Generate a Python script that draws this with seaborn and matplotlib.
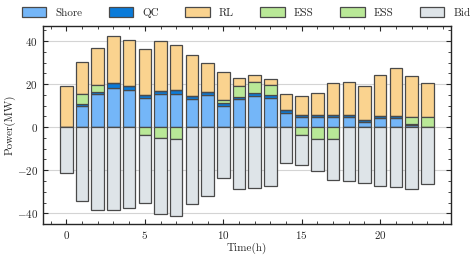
import numpy as np
import pandas as pd
import matplotlib
matplotlib.use("Agg")
import matplotlib.pyplot as plt
from matplotlib.ticker import MultipleLocator
import seaborn as sns

hours = np.arange(24)
shore = [0, 10.0, 15.3, 18.3, 17.1, 13.7, 15.4, 15.4, 13.1, 15.1, 10.0, 12.9,
         14.5, 13.7, 6.8, 4.8, 4.8, 4.8, 4.8, 2.6, 4.2, 4.2, 1.1, 0]
qc = [0, 0.9, 1.0, 2.2, 1.9, 1.3, 1.6, 1.9, 1.4, 1.4, 1.1, 1.3,
      1.2, 1.1, 1.1, 0.9, 0.9, 0.9, 0.9, 0.8, 0.9, 0.9, 0.4, 0]
rl = [19.2, 14.7, 17.1, 22.0, 21.7, 21.5, 22.9, 20.7, 18.8, 13.5, 12.8, 3.7,
      3.2, 3.0, 7.5, 8.6, 10.0, 14.8, 15.2, 15.9, 18.9, 22.3, 19.0, 15.6]
ess_ch = [0, 4.7, 3.3, 0, 0, 0, 0, 0, 0, 0, 1.5, 4.9,
          5.1, 4.8, 0, 0, 0, 0, 0, 0, 0, 0, 3.1, 4.9]
ess_dis = [0, 0, 0, 0, 0, -3.5, -5.1, -5.4, 0, 0, 0, 0,
           0, 0, 0, -3.5, -5.4, -5.4, 0, 0, 0, 0, 0, 0]
bid = [-21.1, -34.5, -38.6, -38.6, -37.7, -31.9, -35.1, -35.7, -35.7, -32.0, -23.8, -28.5,
       -28.3, -27.1, -16.6, -14.2, -15.1, -18.9, -25.2, -25.7, -27.4, -28.0, -28.5, -26.6]

df = pd.DataFrame({"hour": hours, "Shore": shore, "QC": qc, "RL": rl,
                   "ESS_ch": ess_ch, "ESS_dis": ess_dis, "Bid": bid})

sns.set_style("ticks")
plt.rcParams["font.family"] = "serif"
plt.rcParams["font.serif"] = ["cmr10", "DejaVu Serif"]
plt.rcParams["mathtext.fontset"] = "cm"
plt.rcParams["axes.formatter.use_mathtext"] = True
plt.rcParams["axes.unicode_minus"] = True

fig = plt.figure(figsize=(4.76, 2.57), dpi=100)
ax = fig.add_axes([0.090, 0.128, 0.857, 0.771])

edge = "#4a4a4a"
kw = dict(width=0.8, edgecolor=edge, linewidth=0.9, errorbar=None, saturation=1,
          native_scale=True, ax=ax, zorder=3)

# positive side: Shore, QC, ESS charge, RL stacked in that order
b_qc = df["Shore"]
b_ess = b_qc + df["QC"]
b_rl = b_ess + df["ESS_ch"]

sns.barplot(data=df, x="hour", y="Shore", color="#74b6f8", label="Shore", **kw)
sns.barplot(data=df, x="hour", y="QC", bottom=b_qc.values, color="#0a7bd9", label="QC", **kw)
sns.barplot(data=df, x="hour", y="RL", bottom=b_rl.values, color="#fad38f", label="RL", **kw)
sns.barplot(data=df, x="hour", y="ESS_ch", bottom=b_ess.values, color="#b9e897", label="ESS", **kw)
sns.barplot(data=df, x="hour", y="ESS_dis", color="#b9e897", label="ESS", **kw)
sns.barplot(data=df, x="hour", y="Bid", bottom=df["ESS_dis"].values, color="#dee4e8", label="Bid", **kw)

if ax.get_legend() is not None:
    ax.get_legend().remove()

ax.set_xlim(-1.5, 24.5)
ax.set_ylim(-45, 47)
ax.xaxis.set_major_locator(MultipleLocator(5))
ax.xaxis.set_minor_locator(MultipleLocator(1))
ax.yaxis.set_major_locator(MultipleLocator(20))
ax.yaxis.set_minor_locator(MultipleLocator(5))
ax.tick_params(which="both", direction="in", top=True, right=True, labelsize=8)
ax.tick_params(which="major", length=3.5, width=0.8)
ax.tick_params(which="minor", length=2, width=0.6)
ax.grid(axis="y", which="major", color="#d4d4d4", linewidth=0.8, zorder=0)
ax.set_axisbelow(True)
for s in ax.spines.values():
    s.set_linewidth(1.0)

ax.set_xlabel("Time(h)", fontsize=8, labelpad=1)
ax.set_ylabel("Power(MW)", fontsize=8, labelpad=1)

handles, labels = ax.get_legend_handles_labels()
fig.legend(handles, labels, loc="upper center", bbox_to_anchor=(0.517, 1.01), ncol=6,
           frameon=False, fontsize=8, handlelength=2.2, handleheight=0.9,
           columnspacing=2.4, handletextpad=0.8)

fig.savefig("out.png", dpi=100)
